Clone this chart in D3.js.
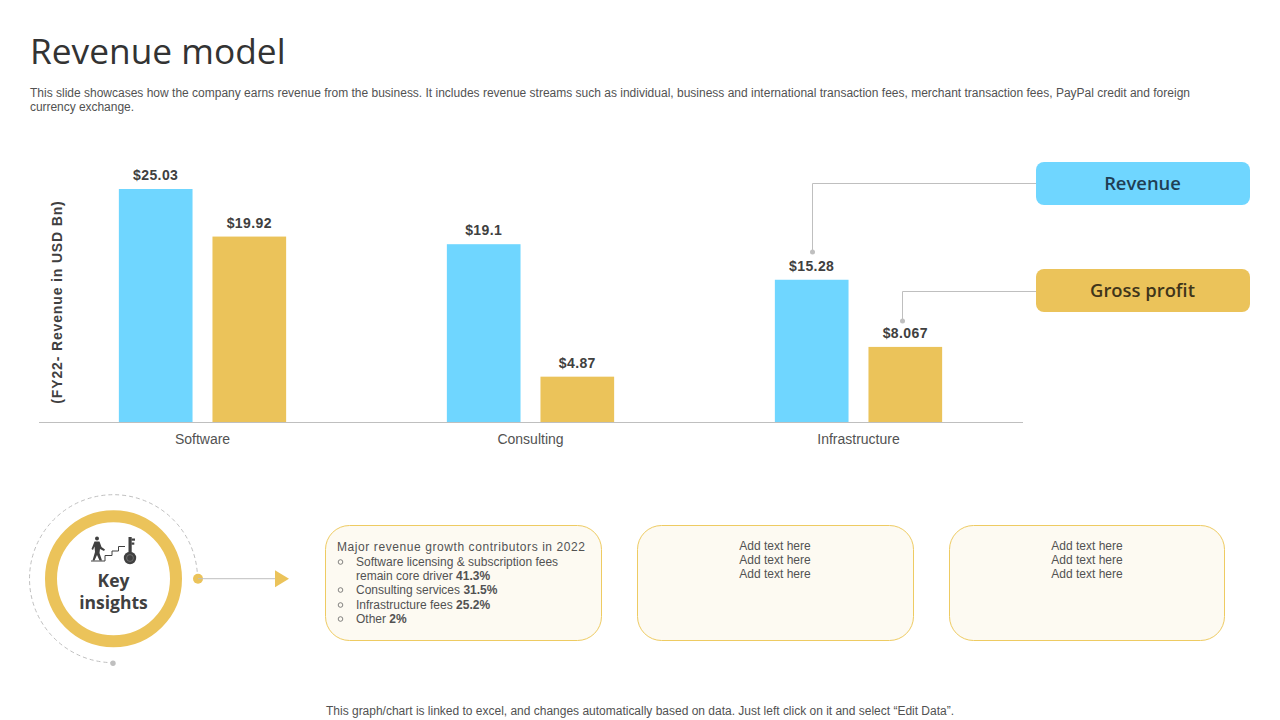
<!DOCTYPE html>
<html>
<head>
<meta charset="utf-8">
<script src="https://cdn.jsdelivr.net/npm/d3@7"></script>
<style>
  html, body { margin: 0; padding: 0; background: #fff; }
  svg { display: block; }
  .sans { font-family: "Liberation Sans", Arial, sans-serif; }
  .open { font-family: "Open Sans", sans-serif; }
</style>
</head>
<body>
<svg id="chart" width="1280" height="720"></svg>
<script>
const categories = ["Software", "Consulting", "Infrastructure"];
const seriesNames = ["Revenue", "Gross profit"];
const revenue = [25.03, 19.1, 15.28];
const grossProfit = [19.92, 4.87, 8.067];
const revenueLabels = ["$25.03", "$19.1", "$15.28"];
const profitLabels = ["$19.92", "$4.87", "$8.067"];
const seriesColors = ["#6fd6ff", "#ebc35a"];

const titleText = "Revenue model";
const descLines = [
  "This slide showcases how the company earns revenue from the business. It includes revenue streams such as individual, business and international transaction fees, merchant transaction fees, PayPal credit and foreign",
  "currency exchange."
];
const yAxisTitle = "(FY22- Revenue in USD Bn)";
const footerText = "This graph/chart is linked to excel, and changes automatically based on data. Just left click on it and select \u201CEdit Data\u201D.";
const placeholderLines = ["Add text here", "Add text here", "Add text here"];
const cardHeading = "Major revenue growth contributors in 2022";
const cardBullets = [
  [["Software licensing & subscription fees", ""]],
  [["remain core driver ", "41.3%"]],
  [["Consulting services ", "31.5%"]],
  [["Infrastructure fees ", "25.2%"]],
  [["Other ", "2%"]]
];

const textDark = "#404040";
const textBody = "#525252";
const lineGrey = "#bfbfbf";
const gold = "#ebc35a";

const svg = d3.select("#chart");

// header
svg.append("text").attr("class", "open").attr("x", 30).attr("y", 64)
  .attr("font-size", 35.3).attr("fill", "#333").text(titleText);

svg.append("g").selectAll("text").data(descLines).enter().append("text")
  .attr("class", "sans").attr("x", 30).attr("y", (d, i) => 97 + i * 14)
  .attr("font-size", 12).attr("fill", textBody).attr("textLength", (d, i) => i === 0 ? 1160 : 104)
  .text(d => d);

// bars
const x0 = d3.scaleBand().domain(categories).range([38.5, 1022.5]).paddingInner(0.49).paddingOuter(0.245);
const x1 = d3.scaleBand().domain(seriesNames).range([0, x0.bandwidth()]).paddingInner(0.213);
const y = d3.scaleLinear().domain([0, 25.03]).range([422, 189]);

const groups = svg.append("g").selectAll("g").data(categories).enter().append("g")
  .attr("transform", d => `translate(${x0(d)},0)`);

[revenue, grossProfit].forEach((values, s) => {
  const labels = s === 0 ? revenueLabels : profitLabels;
  groups.append("rect")
    .attr("x", x1(seriesNames[s]))
    .attr("width", x1.bandwidth())
    .attr("y", (d, i) => y(values[i]))
    .attr("height", (d, i) => y(0) - y(values[i]))
    .attr("fill", seriesColors[s]);
  groups.append("text")
    .attr("class", "sans")
    .attr("x", x1(seriesNames[s]) + x1.bandwidth() / 2)
    .attr("y", (d, i) => y(values[i]) - 9)
    .attr("text-anchor", "middle")
    .attr("font-size", 14).attr("font-weight", "bold").attr("fill", textDark)
    .attr("letter-spacing", 0.4)
    .text((d, i) => labels[i]);
});

// category axis
const axis = svg.append("g").attr("transform", "translate(0,422)")
  .call(d3.axisBottom(x0).tickSize(0).tickPadding(12));
axis.select(".domain").attr("stroke", lineGrey).attr("stroke-width", 1);
axis.selectAll("text").attr("class", "sans").attr("font-family", "Liberation Sans")
  .attr("font-size", 14).attr("fill", textBody);

svg.append("text").attr("class", "sans")
  .attr("transform", "translate(62,302) rotate(-90)")
  .attr("text-anchor", "middle")
  .attr("font-size", 14).attr("font-weight", "bold").attr("fill", textDark)
  .attr("letter-spacing", 0.85)
  .text(yAxisTitle);

// legend boxes with leader lines
const legendBoxes = svg.append("g");
[162, 269].forEach((top, s) => {
  legendBoxes.append("rect").attr("x", 1036).attr("y", top).attr("width", 214).attr("height", 43)
    .attr("rx", 8).attr("fill", seriesColors[s]);
  legendBoxes.append("text").attr("class", "open").attr("x", 1142.5).attr("y", top + 27.5)
    .attr("text-anchor", "middle").attr("font-size", 18.4).attr("font-weight", 600)
    .attr("fill", s === 0 ? "#1f3f55" : "#40351a").text(seriesNames[s]);
});
const leaders = [
  [[1036, 183.5], [812.5, 183.5], [812.5, 252]],
  [[1036, 291.5], [902.5, 291.5], [902.5, 321]]
];
leaders.forEach(pts => {
  svg.append("path").attr("d", d3.line()(pts)).attr("fill", "none")
    .attr("stroke", lineGrey).attr("stroke-width", 1);
  const end = pts[pts.length - 1];
  svg.append("circle").attr("cx", end[0]).attr("cy", end[1]).attr("r", 2.5).attr("fill", lineGrey);
});

// key insights badge
const badge = svg.append("g").attr("transform", "translate(113.5,578.7)");
const dashArc = d3.path();
dashArc.arc(0, 0, 84, 0, Math.PI / 2, true); // right, over the top, round to the bottom
badge.append("path").attr("d", dashArc.toString()).attr("fill", "none")
  .attr("stroke", lineGrey).attr("stroke-width", 1).attr("stroke-dasharray", "4 3");
badge.append("circle").attr("r", 62.5).attr("fill", "#fff").attr("stroke", gold).attr("stroke-width", 12);
badge.append("circle").attr("cx", 84.5).attr("r", 5).attr("fill", gold);
badge.append("circle").attr("cx", -0.5).attr("cy", 84.5).attr("r", 2.7).attr("fill", lineGrey);
badge.append("line").attr("x1", 84.5).attr("x2", 165).attr("stroke", lineGrey).attr("stroke-width", 1);
badge.append("path").attr("d", "M161.5,-8.5L175.5,0L161.5,8.5Z").attr("fill", gold);
const keyText = badge.append("text").attr("class", "open")
  .attr("text-anchor", "middle").attr("font-size", 17.5).attr("font-weight", 700).attr("fill", textDark);
keyText.append("tspan").attr("x", 0).attr("y", 8).text("Key");
keyText.append("tspan").attr("x", 0).attr("y", 30).text("insights");

// stairs icon
const icon = svg.append("g").attr("fill", textDark).attr("stroke", "none");
icon.append("circle").attr("cx", 97).attr("cy", 538.5).attr("r", 2);
icon.append("path").attr("d", "M94.5,541.5L99.5,541.5L101.5,547L105,549.5L104,551L100,549L99.5,553L102,560.5L99.5,560.5L97,555L94.5,560.5L92.5,560.5L95,552L94.5,546.5L93,550L91.5,549Z");
icon.append("path").attr("d", "M91,561H105V555.5H112V551H118.5V546.5H125")
  .attr("fill", "none").attr("stroke", textDark).attr("stroke-width", 1);
icon.append("rect").attr("x", 128.5).attr("y", 537).attr("width", 3.2).attr("height", 15);
icon.append("rect").attr("x", 131.5).attr("y", 538.5).attr("width", 3.5).attr("height", 2.2);
icon.append("rect").attr("x", 131.5).attr("y", 542.5).attr("width", 2.8).attr("height", 2.2);
icon.append("circle").attr("cx", 130).attr("cy", 558).attr("r", 6.2);
icon.append("circle").attr("cx", 130).attr("cy", 558).attr("r", 3.4).attr("fill", "none").attr("stroke", "#8a8a8a").attr("stroke-width", 0.6);

// text cards
const cardX = [325, 637, 949];
const cardW = [276, 276, 275];
svg.append("g").selectAll("rect").data(cardX).enter().append("rect")
  .attr("x", d => d + 0.5).attr("y", 525.5)
  .attr("width", (d, i) => cardW[i]).attr("height", 115)
  .attr("rx", 24).attr("fill", "#fdfaf2").attr("stroke", "#eecb62").attr("stroke-width", 1);

svg.append("text").attr("class", "sans").attr("x", 337).attr("y", 551)
  .attr("font-size", 12).attr("fill", textBody).attr("textLength", 248).text(cardHeading);

const bulletY = [566, 580, 594, 609, 623];
cardBullets.forEach((row, i) => {
  const t = svg.append("text").attr("class", "sans").attr("x", 356).attr("y", bulletY[i])
    .attr("font-size", 12).attr("fill", textBody);
  t.append("tspan").text(row[0][0]);
  t.append("tspan").attr("font-weight", "bold").text(row[0][1]);
  if (i !== 1) {
    svg.append("circle").attr("cx", 340.5).attr("cy", bulletY[i] - 4).attr("r", 2.3)
      .attr("fill", "none").attr("stroke", textBody).attr("stroke-width", 0.7);
  }
});

[775, 1087].forEach(cx => {
  svg.append("g").selectAll("text").data(placeholderLines).enter().append("text")
    .attr("class", "sans").attr("x", cx).attr("y", (d, i) => 550 + i * 14)
    .attr("text-anchor", "middle").attr("font-size", 12).attr("fill", textBody).text(d => d);
});

svg.append("text").attr("class", "sans").attr("x", 640).attr("y", 715)
  .attr("text-anchor", "middle").attr("font-size", 12).attr("fill", textBody)
  .attr("textLength", 628).text(footerText);
</script>
</body>
</html>
